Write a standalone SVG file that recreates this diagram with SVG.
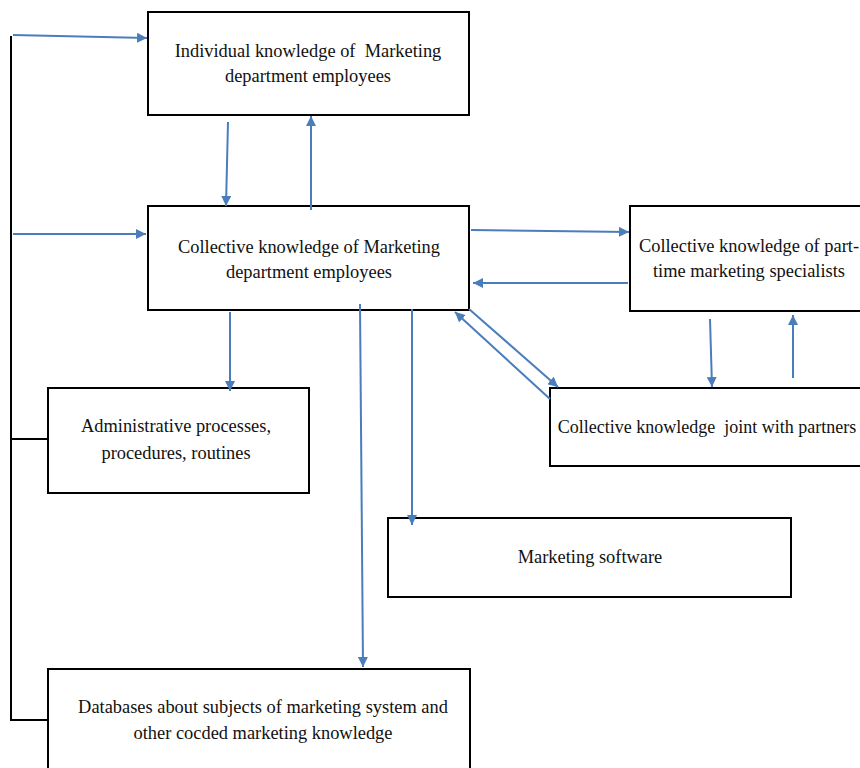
<svg xmlns="http://www.w3.org/2000/svg" width="860" height="768" viewBox="0 0 860 768" xml:space="preserve">
<defs>
<marker id="ah" viewBox="0 0 10 10" refX="10" refY="5" markerWidth="10" markerHeight="10" markerUnits="userSpaceOnUse" orient="auto">
<path d="M0,0 L10,5 L0,10 z" fill="#4a7ebb"/>
</marker>
<style>
.box{fill:#fff;stroke:#000;stroke-width:2}
.t{font-family:"Liberation Serif","Times New Roman",serif;font-size:18.4px;fill:#111;text-anchor:middle;white-space:pre}
.c{stroke:#4a7ebb;stroke-width:2;fill:none;marker-end:url(#ah)}
.b{stroke:#000;stroke-width:2;fill:none}
</style>
</defs>
<rect width="860" height="768" fill="#fff"/>
<g id="n1"><rect class="box" x="148" y="12" width="321" height="103"/>
<text class="t" x="308" y="57">Individual knowledge of  Marketing</text>
<text class="t" x="308" y="82">department employees</text></g>
<g id="n2"><rect class="box" x="148" y="206" width="321" height="104"/>
<text class="t" x="309" y="253">Collective knowledge of Marketing</text>
<text class="t" x="309" y="278">department employees</text></g>
<g id="n3"><rect class="box" x="630" y="206" width="240" height="105"/>
<text class="t" x="749" y="252">Collective knowledge of part-</text>
<text class="t" x="749" y="277">time marketing specialists</text></g>
<g id="n4"><rect class="box" x="550" y="388" width="320" height="78"/>
<text class="t" x="707" y="433" style="font-size:18px">Collective knowledge  joint with partners</text></g>
<g id="n5"><rect class="box" x="48" y="388" width="261" height="105"/>
<text class="t" x="176" y="432">Administrative processes,</text>
<text class="t" x="176" y="459">procedures, routines</text></g>
<g id="n6"><rect class="box" x="388" y="518" width="403" height="79"/>
<text class="t" x="590" y="563">Marketing software</text></g>
<g id="n7"><rect class="box" x="48" y="669" width="422" height="110"/>
<text class="t" x="263" y="713">Databases about subjects of marketing system and</text>
<text class="t" x="263" y="739">other cocded marketing knowledge</text></g>
<g id="connectors">
<path class="b" d="M11,36 V720 H48"/>
<path class="b" d="M11,439 H48"/>
<path class="c" d="M13,35 L147,38"/>
<path class="c" d="M13,234 L146,234"/>
<path class="c" d="M228,122 L226,206"/>
<path class="c" d="M311,210 L311,116"/>
<path class="c" d="M471,230 L629,232"/>
<path class="c" d="M628,283 L473,283"/>
<path class="c" d="M710,319 L712,387"/>
<path class="c" d="M793,378 L793,315"/>
<path class="c" d="M469,309 L558,387"/>
<path class="c" d="M550,399 L455,312"/>
<path class="c" d="M230,312 L230,391"/>
<path class="c" d="M360,304 L363,667"/>
<path class="c" d="M412,309 L412,525"/>
</g>
</svg>
